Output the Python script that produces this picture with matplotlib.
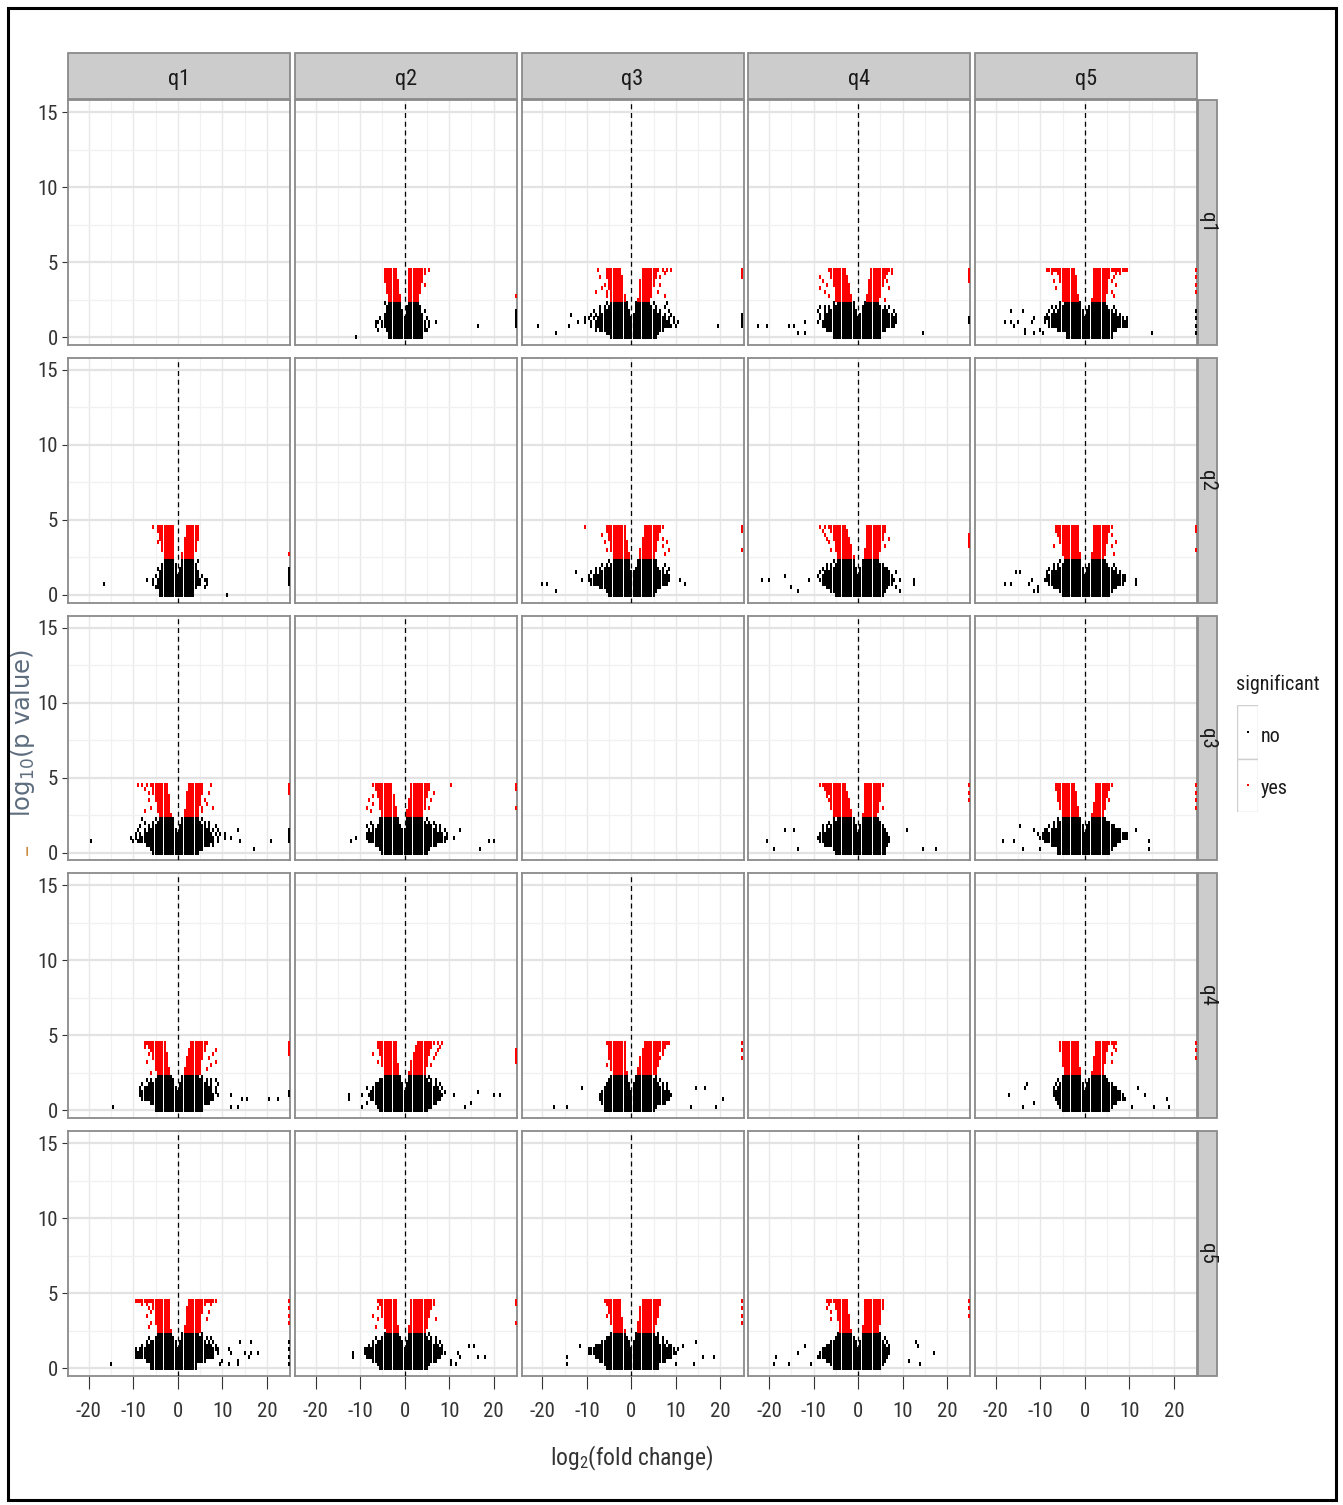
import matplotlib
matplotlib.use("Agg")
import matplotlib.pyplot as plt
from matplotlib import font_manager as fm
from matplotlib.font_manager import FontProperties
from matplotlib.textpath import TextPath
from matplotlib.patches import Rectangle

# ---------------------------------------------------------------- data
groups = ["q1", "q2", "q3", "q4", "q5"]
x_ticks = [-20, -10, 0, 10, 20]
y_ticks = [0, 5, 10, 15]
legend_levels = ["no", "yes"]

# -log10(p) levels of the significant ("yes") and non-significant ("no") bands
sig_levels = [4.5, 4.25, 4.0, 3.75, 3.5, 3.25, 3.0, 2.75, 2.5]
nonsig_levels = [2.25, 2.0, 1.75, 1.5, 1.25, 1.0, 0.75, 0.5, 0.25, 0.0]

# occupied log2(fold change) cells (0.5 wide) at each level; "a:b" is a run of cells
sig_rows = {
    "q1-q2": ["-4.5:-2 1:4.5 5.5", "-4.5:-2 1:4.5", "-4.5:-2 1:4", "-4.5:-1.5 1:4",
              "-4:-1.5 1:3.5 4.5", "-4:-1.5 1:3.5", "-4:-1.5 1:3.5", "-3.5:-1 1:3",
              "-3.5:-1 1:3"],
    "q1-q3": ["-7.5 -5.5:-2.5 2.5:6 7 8 9", "-5.5:-2.5 2.5:5.5 7.5", "-7 -5.5:-2 2.5:5.5 6.5",
              "-5:-2 2:5", "-6 -5:-2 2:5 6.5", "-6.5 -5:-2 2:4.5", "-8 -5.5 -4.5:-2 2:4.5 6",
              "-5.5 -4.5:-1.5 2:4.5 7.5", "-4.5:-1.5 1.5:4"],
    "q1-q4": ["-6.5:-3 3:7.5", "-6:-3 3:6.5 7.5", "-8.5 -6:-2.5 3:6", "-8 -5.5:-2.5 2.5:5.5 6.5",
              "-7 -5.5:-2 2.5:5.5", "-8.5 -5:-2 2.5:5 7", "-7.5 -5:-2 2.5:5",
              "-6.5 -5:-1.5 2:5", "-5:-1.5 2:4.5 6"],
    "q1-q5": ["-8.5:-2.5 2:9.5", "-7.5 -6:-2.5 2:5.5 7 8", "-5.5:-2 2:5.5 6.5",
              "-7 -5.5:-2 2:5 6", "-5:-2 2:5 7", "-6.5 -5:-2 2:5", "-5:-2 2:5 6",
              "-5:-1.5 2:4.5 6.5", "-5:-1.5 1.5:4.5"],
    "q2-q3": ["-10.5 -5.5:-1.5 3:7", "-5.5:-1.5 3:6.5", "-6.5 -5:-1.5 3:6", "-5:-1.5 2.5:6 7",
              "-6 -4.5:-1 2.5:5.5 8", "-4.5:-1 2.5:5.5 7", "-5.5 -4.5:-1 2:5.5 8.5",
              "-4:-0.5 2:5 7.5", "-4:-0.5 2:5"],
    "q2-q4": ["-8.5 -7.5 -6.5:-3 2:6", "-8 -6:-2.5 2:6", "-7.5 -5.5:-2.5 2:5.5",
              "-7 -5.5:-2 2:5.5 7", "-6.5 -5:-2 2:5", "-5:-1.5 2:5 6", "-6 -5:-1.5 1.5:5",
              "-4.5:-1.5 1.5:4.5", "-4.5:-1 1.5:4.5"],
    "q2-q5": ["-6.5:-1.5 2:6", "-6.5:-1.5 2:5.5", "-6:-1.5 2:5 6", "-5.5:-1.5 2:5",
              "-5.5:-1.5 2:5 7", "-7 -5:-1.5 2:4.5 6", "-5:-1.5 2:4.5", "-5:-1 1.5:4.5 6.5",
              "-4.5:-1 1.5:4"],
    "q3-q4": ["-8.5:-3 1.5:5.5", "-7.5:-3 1.5:5", "-7:-2.5 1.5:5", "-7 -6:-2.5 1.5:5",
              "-6.5:-2 1.5:5", "-6:-2 1.5:4.5", "-6:-2 1.5:4.5 5.5", "-5.5:-1.5 1.5:4.5",
              "-5.5:-1.5 1:4"],
    "q3-q5": ["-6.5:-2.5 2.5:6", "-6.5:-2.5 2.5:5.5", "-6:-2 2.5:5", "-6:-2 2.5:5",
              "-6:-2 2.5:4.5 5.5", "-5.5:-2 2:4.5", "-5.5:-1.5 2:4.5", "-5:-1.5 2:4",
              "-5:-1.5 1.5:4"],
    "q4-q5": ["-5.5:-1.5 2.5:7", "-5.5:-1.5 2.5:5 6.5", "-5.5:-1.5 2.5:5 7",
              "-5:-1.5 2.5:4.5 6", "-5:-1.5 2:4.5", "-5:-1.5 2:4.5 6", "-5:-1.5 2:4",
              "-4.5:-1 2:4", "-4.5:-1 1.5:4"],
}

nonsig_rows = {
    "q1-q2": ["-4.5 -3.5:-1 1:3", "-4:-1 0.5:3.5", "-4:-0.5 0.5:3.5 4.5", "-4.5:-0.5 0.5:4",
              "-5.5 -4.5:4 5", "-6.5 -6 -5:4.5 5.5 7", "-6.5 -5:4.5 5.5 16.5", "-6 -4:4.5 5",
              "-3.5:4", "-11 -3.5:4"],
    "q1-q3": ["-5.5 -4.5:-1 1:4 5 8", "-7 -6 -5:-1 1:4.5 5.5 7.5",
              "-8.5 -7 -6:-0.5 1:5.5 6.5 8.5", "-13.5 -9 -8 -7:-0.5 0.5:6.5 7.5 9",
              "-10.5 -9.5 -8.5 -7.5:7.5 8.5 9.5", "-12 -10.5 -9 -8:8.5 9.5 10.5",
              "-21 -14 -9 -8:9 10 19.5", "-8 -7:7", "-17 -5.5:6", "-4.5:5.5"],
    "q1-q4": ["-5.5 -4.5:-1 1.5:4.5", "-8.5 -7.5 -6.5 -5.5:-1 1:5 6 7",
              "-9 -7.5 -6.5:-0.5 1:6.5 8", "-8.5 -7.5:-0.5 0.5:7.5 8.5", "-8.5 -7.5:8 8.5",
              "-12 -9 -8:8.5", "-22.5 -20.5 -15.5 -14.5 -8:8", "-7:6", "-13.5 -12 -5.5:5 14.5",
              "-5.5:5"],
    "q1-q5": ["-5.5 -4.5:-1 1.5:4.5", "-7.5 -6.5 -5.5:-1 1:5 6.5",
              "-16.5 -14 -8 -7 -6:-0.5 0.5:6 7", "-8.5 -7.5:-0.5 0.5:7 8",
              "-11.5 -9 -8.5:8.5 9.5", "-18 -16.5 -15 -12 -9 -8:9.5", "-16 -8:9.5",
              "-13.5 -10 -6:7", "-13.5 -11.5 -9.5 -4:6 15", "-4:6"],
    "q2-q3": ["-5 -4:-0.5 1.5:5 5.5", "-6.5 -5.5 -4.5:-0.5 1.5:5.5 7.5",
              "-8 -7 -6:-0.5 1:6 7 8.5", "-12.5 -9 -8 -7:7 8", "-9.5 -8.5:8.5", "-11 -9.5:8.5 11",
              "-20 -19 -9:8 12", "-7:6.5", "-17 -5.5:5.5", "-5:5"],
    "q2-q4": ["-5.5 -4.5:-1 1:4.5", "-7 -6 -5:-1 1:5 5.5", "-8 -7 -6:-0.5 0.5:6 6.5",
              "-8.5 -7.5:-0.5 0.5:7 8.5", "-16.5 -9 -8:7.5", "-21.5 -20 -11 -8.5:8 9.5 12.5",
              "-8:7.5 12.5", "-15 -7:6.5 8.5", "-13.5 -6:6 9.5", "-5:5.5"],
    "q2-q5": ["-5.5 -4.5:-1 1.5:4.5", "-7 -6 -5:-1 1:5 6.5", "-8 -7 -6:-0.5 0.5:6 7",
              "-15.5 -14.5 -8.5 -7.5:-0.5 0.5:7 8", "-8.5:9", "-12 -9:9 11.5",
              "-18 -16.5 -12.5 -8:8.5 11.5", "-10.5 -7:7", "-11.5 -10.5 -5.5:6", "-5:5.5"],
    "q3-q4": ["-5.5 -4.5:-1 1:4.5", "-6.5 -5.5:-1 1:5", "-8 -7 -6:-0.5 0.5:5.5",
              "-16.5 -14.5 -8 -7:-0.5 0.5:6 11", "-8.5:6.5", "-9:7", "-20.5 -8.5:7", "-7.5:6.5",
              "-19 -13.5 -5.5:6 14.5 17.5", "-5:6"],
    "q3-q5": ["-6 -5 -4.5:-1 1.5:4.5", "-7 -6:-1 1:5 5.5", "-14.5 -8 -7 -6:-0.5 0.5:6 6.5",
              "-11.5 -9 -8.5 -7.5:-0.5 0.5:7.5 8 11.5", "-10.5 -9.5:9.5", "-10:9.5",
              "-18.5 -16 -9:8 14.5", "-7.5:7", "-14 -10 -6:6 14.5", "-6:5.5"],
    "q4-q5": ["-5 -4.5:-1 1.5:4.5", "-6 -5:-1 1:4.5 5", "-13 -6.5 -5.5:-0.5 0.5:6",
              "-13.5 -7 -6:-0.5 0.5:6.5 7 12", "-7:8", "-17 -7:8.5 13.5", "-6.5:9 18.5",
              "-11.5 -6:7", "-14 -5.5:6 10.5 15.5 19", "-5:5.5"],
}

# genes with an unbounded fold change sit on the right border of the panel
edge_x = 24.95
edge_sig = {
    "q1-q2": [2.75], "q1-q3": [4.0, 4.25, 4.5], "q1-q4": [3.75, 4.0, 4.25, 4.5],
    "q1-q5": [3.0, 3.5, 4.0, 4.5], "q2-q3": [3.0, 4.25, 4.5], "q2-q4": [3.25, 3.5, 3.75, 4.0],
    "q2-q5": [3.0, 4.25, 4.5], "q3-q4": [3.5, 4.0, 4.5], "q3-q5": [3.0, 3.5, 4.0, 4.5],
    "q4-q5": [3.5, 4.0, 4.5],
}
edge_nonsig = {
    "q1-q2": [0.75, 1.0, 1.25, 1.5, 1.75], "q1-q3": [0.75, 1.0, 1.25, 1.5],
    "q1-q4": [1.0, 1.25], "q1-q5": [0.25, 0.75, 1.25, 1.75], "q2-q3": [], "q2-q4": [],
    "q2-q5": [], "q3-q4": [], "q3-q5": [], "q4-q5": [],
}


def cells(spec):
    xs = []
    for tok in spec.split():
        if ":" in tok:
            a, b = map(float, tok.split(":"))
            n = int(round((b - a) / 0.5)) + 1
            xs.extend(a + 0.5 * k for k in range(n))
        else:
            xs.append(float(tok))
    return xs


def band(rows, levels):
    xs, ys = [], []
    for spec, lev in zip(rows, levels):
        c = cells(spec)
        xs.extend(c)
        ys.extend([lev] * len(c))
    return xs, ys


# ---------------------------------------------------------------- fonts
BASES = ("DejaVu Sans", "Liberation Sans", "Noto Sans", "Roboto", "Open Sans", "Lato", "Inter")
BAD = ("Mono", "CJK", "Serif", "Display", "Math", "Symbol")


def narrowest_font():
    best, best_w = None, None
    for f in fm.fontManager.ttflist:
        n = f.name
        if any(k in n for k in BAD):
            continue
        base = next((b for b in BASES if n.startswith(b)), None)
        if base is None:
            continue
        rest = n[len(base):].strip()
        if rest and not any(k in rest for k in ("Condensed", "Narrow", "Cond")):
            continue
        if f.style != "normal":
            continue
        try:
            if int(f.weight) != 400:
                continue
        except (TypeError, ValueError):
            if str(f.weight).lower() not in ("normal", "regular", "book"):
                continue
        try:
            p = FontProperties(fname=f.fname)
            ext = TextPath((0, 0), "significant 0123456789 q", size=10, prop=p).get_extents()
            w = ext.width
        except Exception:
            continue
        if w <= 0:
            continue
        if best_w is None or w < best_w:
            best, best_w = f.fname, w
    return best


_narrow_file = narrowest_font()
names = {f.name for f in fm.fontManager.ttflist}
REGULAR = "Liberation Sans" if "Liberation Sans" in names else "DejaVu Sans"


def nfont(size):
    if _narrow_file:
        return FontProperties(fname=_narrow_file, size=size)
    return FontProperties(family="DejaVu Sans", size=size)


# ---------------------------------------------------------------- layout
W, H = 1343, 1505
fig = plt.figure(figsize=(W / 100, H / 100), dpi=100)

col_left = [68 + 226.75 * i for i in range(5)]
row_top = [100 + 257.75 * j for j in range(5)]
PW, PH = 222, 245
XLIM = (-24.7, 25.2)
YLIM = (-0.53, 15.8)

BORDER = "#8a8a8a"
STRIP = "#cccccc"
TXT = "#333333"
cell_marker = [(-0.3, -0.5), (0.3, -0.5), (0.3, 0.5), (-0.3, 0.5)]
CELL_S = 8.3


def frac(x, y, w, h):
    return [x / W, 1 - (y + h) / H, w / W, h / H]


for r in range(5):
    for c in range(5):
        ax = fig.add_axes(frac(col_left[c], row_top[r], PW, PH))
        ax.set_xlim(*XLIM)
        ax.set_ylim(*YLIM)
        ax.set_xticks(x_ticks)
        ax.set_xticks([-15, -5, 5, 15], minor=True)
        ax.set_yticks(y_ticks)
        ax.set_yticks([2.5, 7.5, 12.5], minor=True)
        ax.set_axisbelow(True)
        ax.xaxis.grid(True, which="major", color="#e8e8e8", lw=1.0)
        ax.xaxis.grid(True, which="minor", color="#f1f1f1", lw=0.9)
        ax.yaxis.grid(True, which="major", color="#e3e3e3", lw=1.6)
        ax.yaxis.grid(True, which="minor", color="#f1f1f1", lw=1.0)
        for s in ax.spines.values():
            s.set_color(BORDER)
            s.set_linewidth(1.3)
        ax.tick_params(which="both", length=0, labelbottom=False, labelleft=False)
        if r == 4:
            ax.tick_params(axis="x", which="major", length=9.4, width=0.8, color=TXT,
                           labelbottom=True, labelcolor=TXT, pad=9)
            ax.set_xticklabels([str(t) for t in x_ticks], fontproperties=nfont(15))
        if c == 0:
            ax.tick_params(axis="y", which="major", length=4, width=0.8, color=TXT,
                           labelleft=True, labelcolor=TXT, pad=3)
            ax.set_yticklabels([str(t) for t in y_ticks], fontproperties=nfont(15))
        ax.set_facecolor("white")

        if r == c:
            continue
        a, b = (groups[r], groups[c]) if r < c else (groups[c], groups[r])
        key = f"{a}-{b}"
        sign = 1 if r < c else -1
        bx, by = band(nonsig_rows[key], nonsig_levels)
        rx, ry = band(sig_rows[key], sig_levels)
        ax.scatter([sign * v for v in bx], by, s=CELL_S, marker=cell_marker,
                   c="black", linewidths=0, zorder=3)
        ax.scatter([sign * v for v in rx], ry, s=CELL_S, marker=cell_marker,
                   c="#ff0000", linewidths=0, zorder=3)
        ax.scatter([edge_x] * len(edge_nonsig[key]), edge_nonsig[key], s=CELL_S,
                   marker=cell_marker, c="black", linewidths=0, zorder=3)
        ax.scatter([edge_x] * len(edge_sig[key]), edge_sig[key], s=CELL_S,
                   marker=cell_marker, c="#ff0000", linewidths=0, zorder=3)
        ax.axvline(0, color="black", lw=0.9, ls=(0, (4, 3)), zorder=4)

# facet strips
for c in range(5):
    fig.patches.append(Rectangle(((col_left[c]) / W, 1 - 99 / H), PW / W, 46 / H,
                                 transform=fig.transFigure, facecolor=STRIP,
                                 edgecolor=BORDER, lw=1.3))
    fig.text((col_left[c] + PW / 2) / W, 1 - 79 / H, groups[c], ha="center", va="center",
             fontproperties=nfont(16), color="#1a1a1a")
for r in range(5):
    fig.patches.append(Rectangle((1198 / W, 1 - (row_top[r] + PH) / H), 19 / W, PH / H,
                                 transform=fig.transFigure, facecolor=STRIP,
                                 edgecolor=BORDER, lw=1.3))
    fig.text(1207.5 / W, 1 - (row_top[r] + PH / 2) / H, groups[r], ha="center",
             va="center", rotation=-90, fontproperties=nfont(15), color="#1a1a1a")

# axis titles
fig.text(632 / W, 1 - 1458 / H, r"$\mathregular{log_2}$(fold change)", ha="center",
         va="center", fontproperties=nfont(17), color=TXT)
fig.text(23 / W, 1 - 733 / H, r"$\mathregular{log_{10}}$(p value)", ha="center",
         va="center", rotation=90, fontproperties=FontProperties(family="DejaVu Sans", size=17.5),
         color="#5d6d7e")
fig.text(27 / W, 1 - 849 / H, "\u2013", ha="center", va="center", rotation=90,
         fontproperties=FontProperties(family="DejaVu Sans", size=16), color="#c98a3e")

# legend
fig.text(1236 / W, 1 - 684 / H, "significant", ha="left", va="center",
         fontproperties=nfont(14.5), color="#1a1a1a")
lax = fig.add_axes(frac(1237, 705, 21, 107))
lax.set_xlim(0, 1)
lax.set_ylim(0, 2)
lax.axis("off")
for i, (lev, col) in enumerate(zip(legend_levels, ["black", "#ff0000"])):
    y0 = 1 - i
    lax.add_patch(Rectangle((0, y0), 1, 1, facecolor="white", edgecolor="#cfcfcf", lw=1.0))
    lax.scatter([0.5], [y0 + 0.5], s=2.5, c=col, marker="s", linewidths=0)
    fig.text(1261 / W, 1 - (737 + 52 * i) / H, lev, ha="left", va="center",
             fontproperties=nfont(14.5), color="#1a1a1a")

# outer frame
fig.patches.append(Rectangle((8 / W, 1 - 1500 / H), 1328 / W, 1492 / H,
                             transform=fig.transFigure, facecolor="none",
                             edgecolor="black", lw=2.2))

fig.savefig("out.png", dpi=100)
